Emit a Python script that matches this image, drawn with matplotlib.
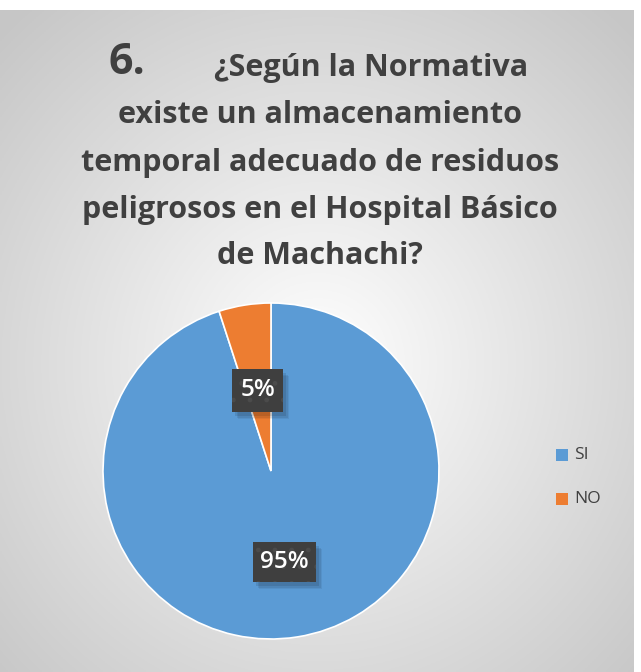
import numpy as np
import matplotlib
matplotlib.use("Agg")
import matplotlib.pyplot as plt
from matplotlib.patches import Rectangle

categories = ["SI", "NO"]
values = [95, 5]
labels = ["95%", "5%"]
colors = ["#5B9BD5", "#ED7D31"]
title_lines = ["existe un almacenamiento", "temporal adecuado de residuos",
               "peligrosos en el Hospital Básico", "de Machachi?"]

W, H = 641, 672
fig = plt.figure(figsize=(W/100, H/100), dpi=100)
fig.patch.set_facecolor("white")

# background with radial gradient
bg = fig.add_axes([0, 0, 634/W, (H-10)/H])
yy, xx = np.mgrid[0:300, 0:300]
cx, cy = 150, 160
r = np.sqrt((xx-cx)**2 + (yy-cy)**2) / 210
v = np.clip(1.0 - 0.22*r, 0.78, 1.0)
bg.imshow(np.dstack([v, v, v]), extent=[0, 1, 0, 1], aspect="auto", origin="upper")
bg.set_axis_off()

# title
fnt = "Open Sans"
tc = "#404040"
fig.text(127/W, 1-62/H, "6.", fontsize=31, fontweight="bold", color=tc,
         ha="center", va="center", family=fnt)
fig.text(371/W, 1-68/H, "¿Según la Normativa", fontsize=22, fontweight="bold",
         color=tc, ha="center", va="center", family=fnt)
ys = [115, 163, 210, 256]
for t, y in zip(title_lines, ys):
    fig.text(320/W, 1-y/H, t, fontsize=22, fontweight="bold", color=tc,
             ha="center", va="center", family=fnt)

# pie
cxp, cyp, rad = 271, 471, 168
ax = fig.add_axes([(cxp-rad)/W, 1-(cyp+rad)/H, 2*rad/W, 2*rad/H])
wedges, _ = ax.pie(values, colors=colors, startangle=90, counterclock=False,
                   wedgeprops=dict(linewidth=1.2, edgecolor="white"))
ax.set_xlim(-1, 1); ax.set_ylim(-1, 1)
ax.set_aspect("auto")

# data labels (box centre and size in pixels)
boxes = {"95%": (284.5, 562, 63, 40), "5%": (257.5, 390.5, 51, 43)}
for lab in labels:
    x, y, bw, bh = boxes[lab]
    for k, a in [(6, 0.06), (4.5, 0.08), (3, 0.10)]:
        fig.patches.append(Rectangle(((x-bw/2+k)/W, 1-(y+bh/2+k+1)/H), bw/W, bh/H,
                                     transform=fig.transFigure, facecolor="black",
                                     alpha=a, edgecolor="none", zorder=5))
    fig.patches.append(Rectangle(((x-bw/2)/W, 1-(y+bh/2)/H), bw/W, bh/H,
                                 transform=fig.transFigure, facecolor="#3f3f3f",
                                 edgecolor="#4b4b4b", hatch=".", linewidth=0.0,
                                 zorder=6))
    fig.text(x/W, 1-y/H, lab, fontsize=17.5, fontweight="semibold", color="white",
             ha="center", va="center", family=fnt, zorder=7)

# legend
for cat, col, y in zip(categories, colors, [455, 499]):
    fig.patches.append(Rectangle((556/W, 1-(y+6)/H), 12/W, 12/H,
                                 transform=fig.transFigure, facecolor=col,
                                 edgecolor="none"))
    fig.text(574/W, 1-y/H, cat, fontsize=12.5, color=tc, ha="left",
             va="center", family=fnt)

fig.savefig("out.png", dpi=100)
